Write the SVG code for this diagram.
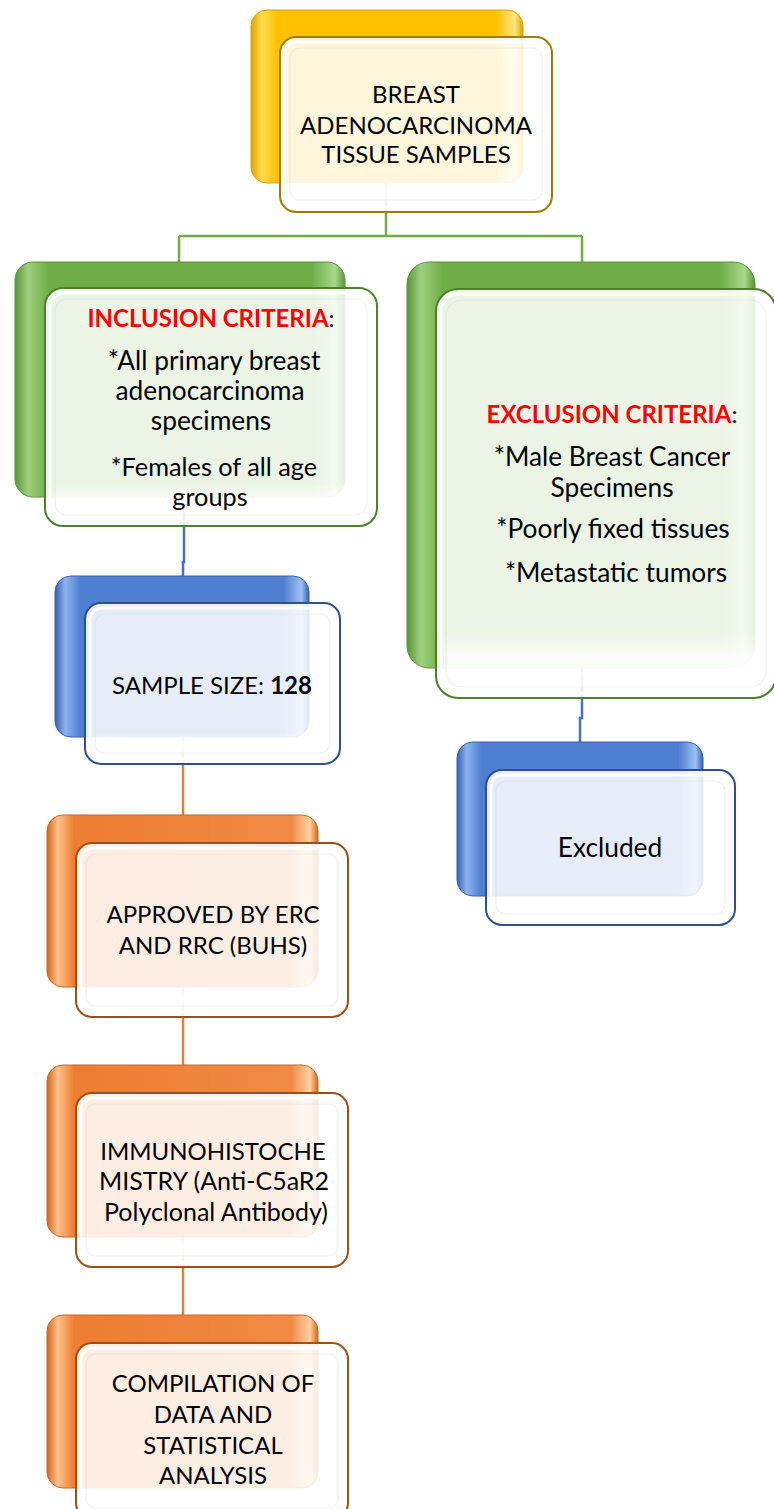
<svg xmlns="http://www.w3.org/2000/svg" width="774" height="1509" viewBox="0 0 774 1509">
<style>
text{font-family:Lato,"Liberation Sans",sans-serif;font-size:24px;fill:#000;text-anchor:middle}
.lc{font-size:26.3px}
.sm{font-size:25.3px}
.mx{font-size:25px}
.b{font-weight:bold}
.red{fill:#ff0000;font-weight:bold}
.front{fill:#fff;fill-opacity:0.86;stroke-width:2}
.bev1{fill:none;stroke:#fff;stroke-width:3;stroke-opacity:0.9}
.bev2{fill:none;stroke:#d4d4d4;stroke-width:1.2;stroke-opacity:0.35}
.conn{fill:none;stroke-width:2.5}
</style>
<defs>
<linearGradient id="gy" x1="0" y1="0" x2="1" y2="0">
<stop offset="0" stop-color="#d9a400"/><stop offset="0.04" stop-color="#ffdb4d"/><stop offset="0.1" stop-color="#ffc000"/><stop offset="0.9" stop-color="#ffc000"/><stop offset="0.97" stop-color="#ffe680"/><stop offset="1" stop-color="#d9a400"/>
</linearGradient>
<linearGradient id="gg" x1="0" y1="0" x2="1" y2="0">
<stop offset="0" stop-color="#5a9436"/><stop offset="0.04" stop-color="#9fd080"/><stop offset="0.1" stop-color="#70ad47"/><stop offset="0.9" stop-color="#70ad47"/><stop offset="0.97" stop-color="#a8d88a"/><stop offset="1" stop-color="#5a9436"/>
</linearGradient>
<linearGradient id="gb" x1="0" y1="0" x2="1" y2="0">
<stop offset="0" stop-color="#3461b0"/><stop offset="0.04" stop-color="#8fb2ef"/><stop offset="0.1" stop-color="#4f7fd0"/><stop offset="0.9" stop-color="#4f7fd0"/><stop offset="0.97" stop-color="#9cc0f5"/><stop offset="1" stop-color="#3461b0"/>
</linearGradient>
<linearGradient id="go" x1="0" y1="0" x2="1" y2="0">
<stop offset="0" stop-color="#d0661f"/><stop offset="0.04" stop-color="#ffc08a"/><stop offset="0.1" stop-color="#ed7d31"/><stop offset="0.9" stop-color="#f08a45"/><stop offset="0.97" stop-color="#ffd0a0"/><stop offset="1" stop-color="#d0661f"/>
</linearGradient>
<linearGradient id="gf" x1="0" y1="0" x2="0" y2="1">
<stop offset="0" stop-color="#fff" stop-opacity="0"/><stop offset="0.85" stop-color="#fff" stop-opacity="0"/><stop offset="0.93" stop-color="#fff" stop-opacity="0.8"/><stop offset="1" stop-color="#fff" stop-opacity="0.3"/>
</linearGradient>
</defs>

<g id="connectors">
<path class="conn" stroke="#70ad47" d="M386,183 V236 M179,236 H582 M179,236 V262 M582,236 V262"/>
<path class="conn" stroke="#4472c4" d="M184,497 V562 H183 V576"/>
<path class="conn" stroke="#4472c4" d="M582,668 V718 H580 V742"/>
<path class="conn" stroke="#ed7d31" d="M183,737 V815 M183,987 V1065 M183,1237 V1315"/>
</g>

<g id="n-top">
<rect x="251" y="10" width="272" height="173" rx="16" fill="url(#gy)" stroke="#d9a400" stroke-width="1"/>
<rect x="280" y="37" width="272" height="175" rx="16" class="front" stroke="#a07c00"/>
<rect x="285" y="42" width="262" height="165" rx="12" class="bev1"/>
<rect x="288" y="46" width="256" height="156" rx="10" fill="url(#gf)"/>
<rect x="290" y="48" width="252" height="152" rx="10" class="bev2"/>
<text x="416" y="103">BREAST</text>
<text x="416" y="134">ADENOCARCINOMA</text>
<text x="416" y="163">TISSUE SAMPLES</text>
</g>

<g id="n-incl">
<rect x="15" y="262" width="330" height="235" rx="18" fill="url(#gg)" stroke="#5a9436" stroke-width="1"/>
<rect x="45" y="288" width="332" height="238" rx="18" class="front" stroke="#4f7f2f"/>
<rect x="50" y="293" width="322" height="228" rx="14" class="bev1"/>
<rect x="53" y="297" width="316" height="220" rx="12" fill="url(#gf)"/>
<rect x="55" y="299" width="312" height="216" rx="12" class="bev2"/>
<text x="211" y="327"><tspan class="red">INCLUSION CRITERIA</tspan>:</text>
<text class="lc" x="214" y="370">*All primary breast</text>
<text class="lc" x="210" y="400">adenocarcinoma</text>
<text class="lc" x="211" y="430">specimens</text>
<text class="sm" x="214" y="476">*Females of all age</text>
<text class="sm" x="210" y="506">groups</text>
</g>

<g id="n-excl">
<rect x="407" y="262" width="348" height="406" rx="22" fill="url(#gg)" stroke="#5a9436" stroke-width="1"/>
<rect x="436" y="289" width="340" height="409" rx="22" class="front" stroke="#4f7f2f"/>
<rect x="441" y="294" width="330" height="399" rx="18" class="bev1"/>
<rect x="444" y="298" width="324" height="391" rx="16" fill="url(#gf)"/>
<rect x="446" y="300" width="320" height="387" rx="16" class="bev2"/>
<text x="612" y="423"><tspan class="red">EXCLUSION CRITERIA</tspan>:</text>
<text class="lc" x="612" y="466">*Male Breast Cancer</text>
<text class="lc" x="612" y="497">Specimens</text>
<text class="lc" x="613" y="538">*Poorly fixed tissues</text>
<text class="lc" x="616" y="582">*Metastatic tumors</text>
</g>

<g id="n-sample">
<rect x="55" y="576" width="254" height="161" rx="16" fill="url(#gb)" stroke="#3461b0" stroke-width="1"/>
<rect x="85" y="603" width="255" height="161" rx="16" class="front" stroke="#2f4f8f"/>
<rect x="90" y="608" width="245" height="151" rx="12" class="bev1"/>
<rect x="93" y="612" width="239" height="143" rx="10" fill="url(#gf)"/>
<rect x="95" y="614" width="235" height="139" rx="10" class="bev2"/>
<text x="212" y="694">SAMPLE SIZE: <tspan class="b">128</tspan></text>
</g>

<g id="n-excluded">
<rect x="457" y="742" width="246" height="154" rx="16" fill="url(#gb)" stroke="#3461b0" stroke-width="1"/>
<rect x="486" y="770" width="249" height="155" rx="16" class="front" stroke="#2f4f8f"/>
<rect x="491" y="775" width="239" height="145" rx="12" class="bev1"/>
<rect x="494" y="779" width="233" height="137" rx="10" fill="url(#gf)"/>
<rect x="496" y="781" width="229" height="133" rx="10" class="bev2"/>
<text class="lc" x="610" y="857">Excluded</text>
</g>

<g id="n-approved">
<rect x="47" y="815" width="271" height="172" rx="16" fill="url(#go)" stroke="#d0661f" stroke-width="1"/>
<rect x="76" y="843" width="272" height="174" rx="16" class="front" stroke="#a04e17"/>
<rect x="81" y="848" width="262" height="164" rx="12" class="bev1"/>
<rect x="84" y="852" width="256" height="156" rx="10" fill="url(#gf)"/>
<rect x="86" y="854" width="252" height="152" rx="10" class="bev2"/>
<text x="213" y="923">APPROVED BY ERC</text>
<text x="213" y="954">AND RRC (BUHS)</text>
</g>

<g id="n-ihc">
<rect x="47" y="1065" width="271" height="172" rx="16" fill="url(#go)" stroke="#d0661f" stroke-width="1"/>
<rect x="76" y="1093" width="272" height="174" rx="16" class="front" stroke="#a04e17"/>
<rect x="81" y="1098" width="262" height="164" rx="12" class="bev1"/>
<rect x="84" y="1102" width="256" height="156" rx="10" fill="url(#gf)"/>
<rect x="86" y="1104" width="252" height="152" rx="10" class="bev2"/>
<text x="213" y="1160">IMMUNOHISTOCHE</text>
<text class="mx" x="214" y="1190">MISTRY (Anti-C5aR2</text>
<text class="mx" x="216" y="1221">Polyclonal Antibody)</text>
</g>

<g id="n-compile">
<rect x="47" y="1315" width="271" height="173" rx="16" fill="url(#go)" stroke="#d0661f" stroke-width="1"/>
<rect x="76" y="1343" width="272" height="176" rx="16" class="front" stroke="#a04e17"/>
<rect x="81" y="1348" width="262" height="166" rx="12" class="bev1"/>
<rect x="84" y="1352" width="256" height="158" rx="10" fill="url(#gf)"/>
<rect x="86" y="1354" width="252" height="154" rx="10" class="bev2"/>
<text x="213" y="1392">COMPILATION OF</text>
<text x="213" y="1423">DATA AND</text>
<text x="213" y="1454">STATISTICAL</text>
<text x="213" y="1484">ANALYSIS</text>
</g>
</svg>
